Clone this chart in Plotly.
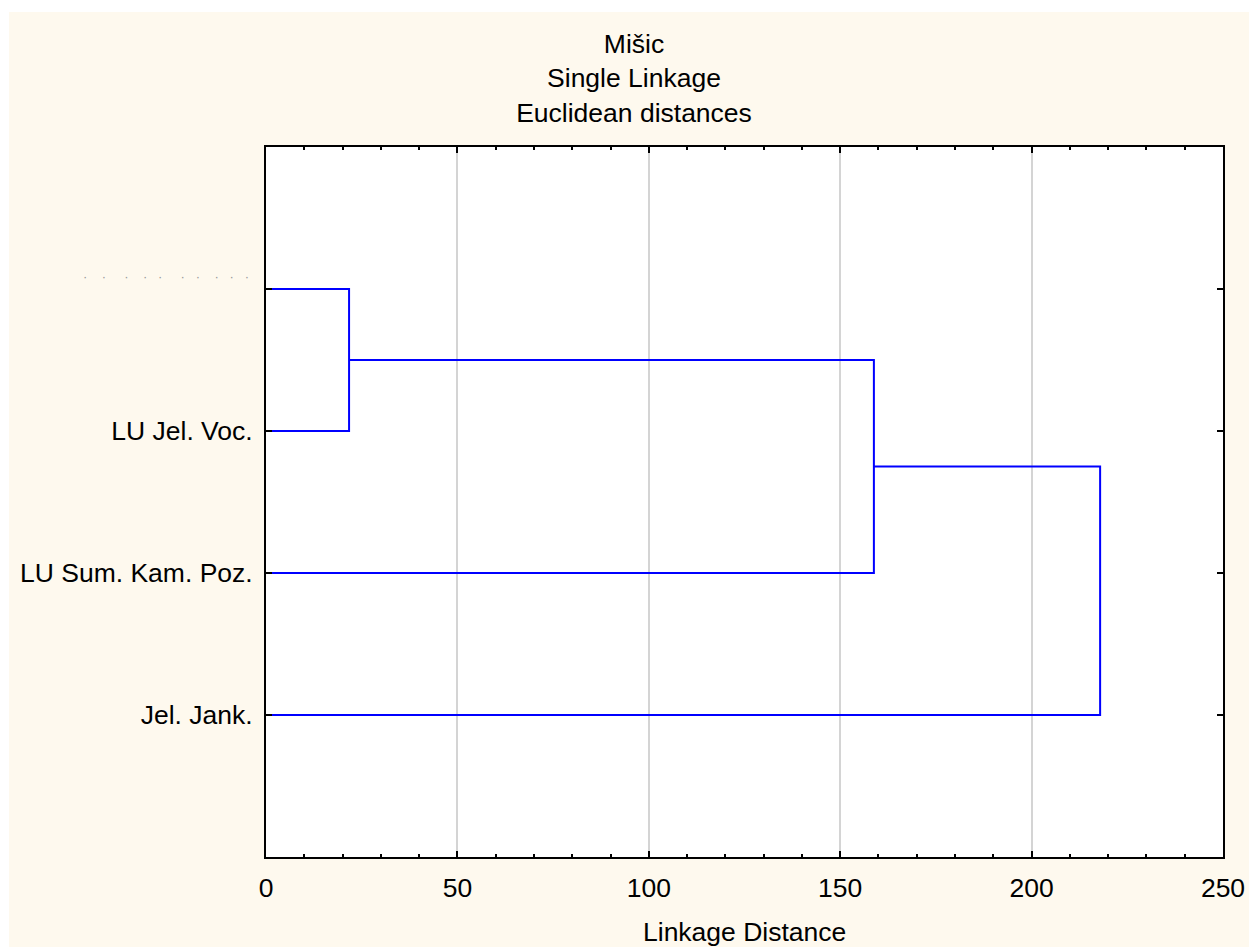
import plotly.graph_objects as go

# ---- data ----
leaf_labels = ["Jel. Jank.", "LU Sum. Kam. Poz.", "LU Jel. Voc.", ""]
leaf_pos = [1, 2, 3, 4]
# merges: (left node, right node, linkage distance); nodes 0..3 are leaves, 4.. are clusters
merges = [(3, 2, 21.7), (4, 1, 158.8), (5, 0, 217.9)]
x_ticks = [0, 50, 100, 150, 200, 250]

BG = "#FEF9EE"
LINE = "#0000FF"

# build dendrogram segments
node_y = {i: p for i, p in enumerate(leaf_pos)}
node_x = {i: 0.0 for i in range(len(leaf_pos))}
xs, ys = [], []
nid = len(leaf_pos)
for a, b, d in merges:
    ya, yb = node_y[a], node_y[b]
    xs += [node_x[a], d, d, node_x[b], None]
    ys += [ya, ya, yb, yb, None]
    node_y[nid] = (ya + yb) / 2
    node_x[nid] = d
    nid += 1

fig = go.Figure()
fig.add_trace(go.Scatter(x=xs, y=ys, mode="lines",
                         line=dict(color=LINE, width=2),
                         hoverinfo="skip", showlegend=False))

FONT = "Liberation Sans, Arial, sans-serif"
FS = 26.5
W, H = 1249, 947
L, R, T, B = 266, 26, 147, 90
pw, ph = W - L - R, H - T - B

def px2x(p):                 # page pixel -> paper x
    return (p - L) / pw

def py2y(p):                 # page pixel -> paper y
    return (H - B - p) / ph

dots = "·" + "\u00a0" * 4 + "·" + "\u00a0" * 5 + "·" + "\u00a0" * 4 + "·" + \
       "\u00a0" * 3 + "·" + "\u00a0" * 5 + "·" + "\u00a0" * 3 + "·" + \
       "\u00a0" * 4 + "·" + "\u00a0" * 3 + "·" + "\u00a0" * 3 + "·"

fig.update_layout(
    width=W, height=H,
    margin=dict(l=L, r=R, t=T, b=B, autoexpand=False),
    paper_bgcolor=BG, plot_bgcolor="white",
    font=dict(family=FONT, size=FS, color="black"),
    showlegend=False,
    title=dict(text="Mišic<br>Single Linkage<br>Euclidean distances",
               x=634 / W, xref="container", xanchor="center",
               y=1 - 53 / H, yref="container", yanchor="top",
               font=dict(family=FONT, size=FS, color="black")),
    xaxis=dict(range=[0, 250], tickvals=x_ticks, ticks="inside", ticklen=6,
               tickwidth=1.5, tickcolor="black",
               minor=dict(dtick=10, ticks="inside", ticklen=3, tickcolor="black",
                          showgrid=False),
               showline=True, linecolor="black", linewidth=2, mirror="ticks",
               showgrid=True, gridcolor="#D4D4D4", gridwidth=1.5,
               zeroline=False, ticklabelstandoff=6),
    yaxis=dict(range=[0, 5], tickvals=leaf_pos, ticktext=leaf_labels,
               ticks="inside", ticklen=6, tickwidth=1.5, tickcolor="black",
               showline=True, linecolor="black", linewidth=2, mirror="ticks",
               showgrid=False, zeroline=False, ticklabelstandoff=6),
    shapes=[
        dict(type="rect", xref="paper", yref="paper", layer="below",
             x0=px2x(-2), x1=px2x(9), y0=py2y(960), y1=py2y(-2),
             fillcolor="white", line=dict(width=0)),
        dict(type="rect", xref="paper", yref="paper", layer="below",
             x0=px2x(-2), x1=px2x(1260), y0=py2y(12), y1=py2y(-2),
             fillcolor="white", line=dict(width=0)),
    ],
    annotations=[
        dict(text="Linkage Distance", xref="paper", yref="paper",
             x=0.5, y=py2y(932), xanchor="center", yanchor="middle",
             showarrow=False, font=dict(family=FONT, size=FS, color="black")),
        dict(text=dots, xref="paper", yref="paper",
             x=px2x(251), y=py2y(276), xanchor="right", yanchor="middle",
             showarrow=False, font=dict(family=FONT, size=13, color="#9A9A9A")),
    ],
)

fig.write_html(
    "out.html",
    config={"displayModeBar": False},
    post_script="document.body.style.margin='0';"
                "document.documentElement.style.overflow='hidden';"
                "document.body.style.overflow='hidden';",
)
